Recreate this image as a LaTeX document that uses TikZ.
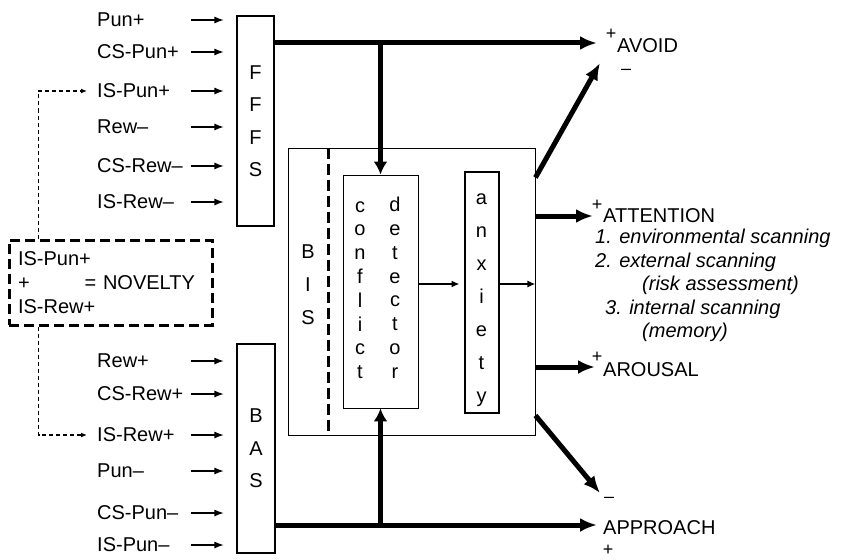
\documentclass[tikz,border=0pt]{standalone}
\usepackage{fontspec}
\setmainfont{Liberation Sans}
\usetikzlibrary{arrows.meta}
\tikzset{
  lbl/.style={anchor=west, inner sep=0pt},
  sgn/.style={inner sep=0pt, font=\fontsize{18}{18}\selectfont},
  col/.style={inner sep=0pt, align=center},
  sysbox/.style={draw, line width=1.1pt, minimum width=37pt, minimum height=210pt,
                 inner sep=0pt, align=center, font=\fontsize{20}{32.5}\selectfont},
  thinbox/.style={draw, line width=0.9pt, inner sep=0pt},
  iarr/.style={-{Latex[length=10pt,width=7pt]}, line width=2pt, shorten >=12pt},
  tarr/.style={-{Latex[length=17pt,width=14pt]}, line width=5pt},
  varr/.style={-{Latex[length=13pt,width=14pt]}, line width=5pt},
  carr/.style={-{Latex[length=8pt,width=7pt]}, line width=1.5pt},
  darr/.style={-{Latex[length=6pt,width=5pt]}, line width=1.2pt, dash pattern=on 4pt off 3pt},
}
\begin{document}
\begin{tikzpicture}[x=1pt,y=-1pt,font=\fontsize{20}{24}\selectfont]
    \useasboundingbox (0,0) rectangle (845,559);
    % systems
    \node[sysbox](fffs) at (255.5,121){F\\F\\F\\S};
    \node[sysbox,minimum width=38pt,minimum height=209pt](bas) at (256,448.5){B\\A\\S};
    \node[thinbox,minimum width=247pt,minimum height=287pt](bis) at (411.5,291.5){};
    \node[thinbox,minimum width=75pt,minimum height=233pt](cd) at (380.5,291.5){};
    \node[draw,line width=2pt,inner sep=0pt,minimum width=34pt,minimum height=241pt](anx) at (481.5,292){};
    \node[col,font=\fontsize{20}{33}\selectfont](bisl) at (308,285){B\\I\\S};
    \node[col,font=\fontsize{20}{23.8}\selectfont](cdl) at (360,290){c\\o\\n\\f\\l\\i\\c\\t};
    \node[col,font=\fontsize{20}{23.8}\selectfont](cdr) at (395,287.7){d\\e\\t\\e\\c\\t\\o\\r};
    \node[col,font=\fontsize{20}{32.9}\selectfont](anxl) at (481.5,300){a\\n\\x\\i\\e\\t\\y};
    \draw[line width=3pt,dash pattern=on 11pt off 5pt]([xshift=41pt]bis.north west)--([xshift=41pt]bis.south west);
    % inputs
    \coordinate (inx) at (191,0);
    \node[lbl](pp) at (97,20){Pun+};
    \node[lbl](cspp) at (97,52){CS-Pun+};
    \node[lbl](ispp) at (97,91){IS-Pun+};
    \node[lbl](rm) at (97,127){Rew–};
    \node[lbl](csrm) at (97,166){CS-Rew–};
    \node[lbl](isrm) at (97,202){IS-Rew–};
    \node[lbl](rp) at (97,361){Rew+};
    \node[lbl](csrp) at (97,394){CS-Rew+};
    \node[lbl](isrp) at (97,435){IS-Rew+};
    \node[lbl](pm) at (97,471){Pun–};
    \node[lbl](cspm) at (97,513){CS-Pun–};
    \node[lbl](ispm) at (97,545){IS-Pun–};
    \draw[iarr](pp-|inx)--(pp-|fffs.west);\draw[iarr](cspp-|inx)--(cspp-|fffs.west);
    \draw[iarr](ispp-|inx)--(ispp-|fffs.west);\draw[iarr](rm-|inx)--(rm-|fffs.west);
    \draw[iarr](csrm-|inx)--(csrm-|fffs.west);\draw[iarr](isrm-|inx)--(isrm-|fffs.west);
    \draw[iarr](rp-|inx)--(rp-|bas.west);\draw[iarr](csrp-|inx)--(csrp-|bas.west);
    \draw[iarr](isrp-|inx)--(isrp-|bas.west);\draw[iarr](pm-|inx)--(pm-|bas.west);
    \draw[iarr](cspm-|inx)--(cspm-|bas.west);\draw[iarr](ispm-|inx)--(ispm-|bas.west);
    % novelty
    \node[draw,line width=3pt,dash pattern=on 10pt off 5pt,minimum width=203pt,minimum height=85pt,
          inner xsep=9pt,inner ysep=0pt,text width=185pt,align=left](nov) at (110.5,282.5)
          {IS-Pun+\\+\hspace{55pt}= NOVELTY\\IS-Rew+};
    \draw[darr]([xshift=31pt]nov.north west)|-([xshift=-10pt]ispp.west);
    \draw[darr]([xshift=31pt]nov.south west)|-([xshift=-10pt]isrp.west);
    % outputs
    \coordinate (avin) at (597,43);
    \coordinate (apin) at (597,525);
    \coordinate (avlo) at (600,63);
    \coordinate (aphi) at (600,493);
    \coordinate (atin) at (593,216);
    \coordinate (arin) at (595,367);
    \draw[tarr](fffs.east|-avin)--(avin);\draw[varr](cd.north|-avin)--(cd.north);
    \draw[tarr](bas.east|-apin)--(apin);\draw[varr](cd.south|-apin)--(cd.south);
    \coordinate (lv) at ([yshift=7.5pt]cd.east);
    \draw[carr,shorten >=4pt](lv)--(lv-|anx.west);\draw[carr](lv-|anx.east)--(lv-|bis.east);
    \draw[tarr]([yshift=-30pt]bis.north east)--(avlo);
    \draw[tarr](bis.east|-atin)--(atin);
    \draw[tarr](bis.east|-arin)--(arin);
    \draw[tarr]([yshift=20pt]bis.south east)--(aphi);
    % responses
    \node[lbl](avoid) at (617,45.5){AVOID};
    \node[sgn](avp) at (611,34){+};
    \node[sgn](avm) at (626,72){–};
    \node[lbl](att) at (603,216){ATTENTION};
    \node[sgn](atp) at (597,205){+};
    \node[lbl,anchor=north west,align=left,font=\itshape\fontsize{20}{23.5}\selectfont](scan) at (595,229)
          {1. environmental scanning\\2. external scanning\\\hspace*{47pt}(risk assessment)\\\hspace*{10pt}3. internal scanning\\\hspace*{47pt}(memory)};
    \node[lbl](arou) at (603,370){AROUSAL};
    \node[sgn](arp) at (597,357){+};
    \node[lbl](appr) at (603,528){APPROACH};
    \node[sgn](apm) at (609,500){–};
    \node[sgn](app) at (608,550){+};
\end{tikzpicture}
\end{document}
